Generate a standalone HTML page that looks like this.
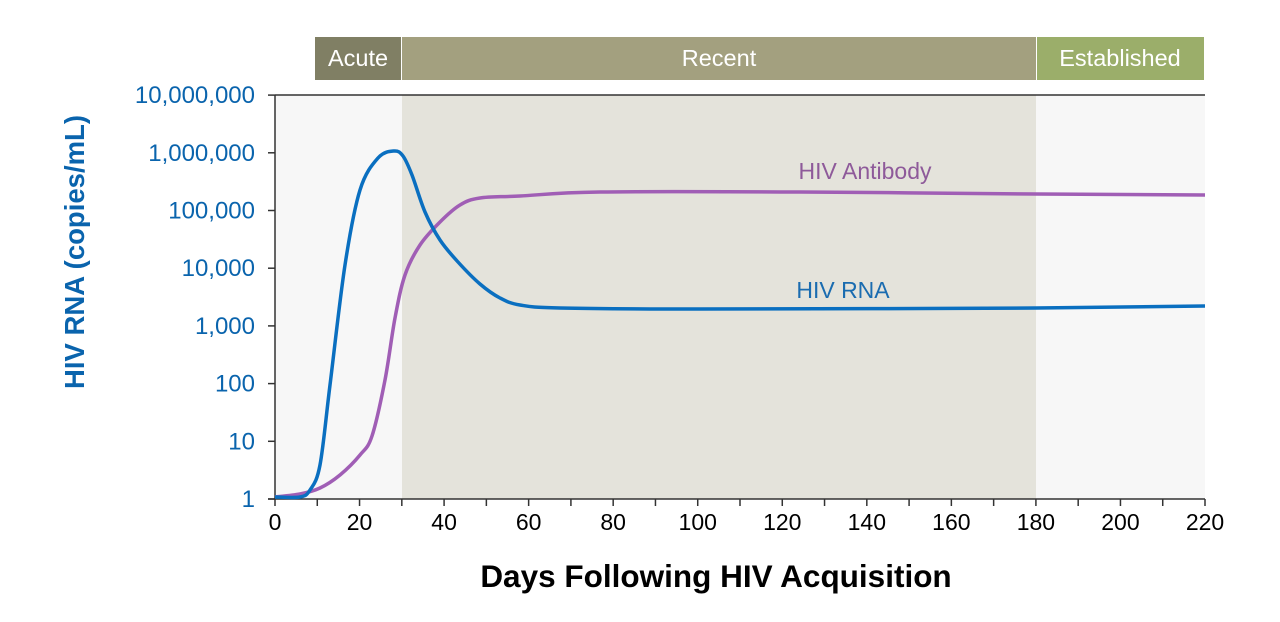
<!DOCTYPE html>
<html><head><meta charset="utf-8"><style>
body{margin:0;background:#fff;}
svg text{font-family:"Liberation Sans",Arial,sans-serif;}
</style></head><body>
<svg width="1280" height="617" xmlns="http://www.w3.org/2000/svg">
<rect x="315" y="37" width="86" height="43" fill="#807f64"/>
<rect x="402" y="37" width="634" height="43" fill="#a3a07f"/>
<rect x="1037" y="37" width="167" height="43" fill="#9bae6a"/>
<text x="358" y="66" fill="#fff" font-size="23.5" text-anchor="middle">Acute</text>
<text x="719" y="66" fill="#fff" font-size="23.5" text-anchor="middle">Recent</text>
<text x="1120" y="66" fill="#fff" font-size="23.5" text-anchor="middle">Established</text>
<rect x="275" y="95" width="930" height="404" fill="#f7f7f7"/>
<rect x="402" y="95" width="634" height="404" fill="#e4e3db"/>
<line x1="275" y1="95" x2="1205" y2="95" stroke="#333" stroke-width="1.5"/>
<line x1="275" y1="95" x2="275" y2="499" stroke="#333" stroke-width="1.5"/>
<line x1="268" y1="499" x2="1205" y2="499" stroke="#333" stroke-width="1.5"/>
<g id="yt" stroke="#333" stroke-width="1.5"></g>
<g id="xt" stroke="#333" stroke-width="1.5"></g>
<g id="yl" fill="#0a64ad" font-size="24" text-anchor="end"></g>
<g id="xl" fill="#000" font-size="23" text-anchor="middle"></g>
<path id="pab" fill="none" stroke="#a05eb5" stroke-width="3.5"/>
<path id="rna" fill="none" stroke="#0a6fc0" stroke-width="3.5"/>
<text x="865" y="179" fill="#8e5a9a" font-size="23" text-anchor="middle">HIV Antibody</text>
<text x="843" y="298" fill="#1a6cb0" font-size="23" text-anchor="middle">HIV RNA</text>
<text transform="translate(84,252) rotate(-90)" fill="#0a64ad" font-size="27.5" font-weight="bold" text-anchor="middle">HIV RNA (copies/mL)</text>
<text x="716" y="587" fill="#000" font-size="31.5" font-weight="bold" text-anchor="middle">Days Following HIV Acquisition</text>
</svg>
<script>
var ns="http://www.w3.org/2000/svg";
function el(p,t,a,txt){var e=document.createElementNS(ns,t);for(var k in a)e.setAttribute(k,a[k]);if(txt)e.textContent=txt;document.getElementById(p).appendChild(e);}
var labs=["1","10","100","1,000","10,000","100,000","1,000,000","10,000,000"];
for(var i=0;i<8;i++){var y=499-i*57.7;el("yt","line",{x1:268,y1:y,x2:275,y2:y});el("yl","text",{x:255,y:y+8},labs[i]);}
for(var d=0;d<=220;d+=10){var x=275+d*930/220;el("xt","line",{x1:x,y1:499,x2:x,y2:506});if(d%20==0)el("xl","text",{x:x,y:530},""+d);}
function cr(p){var s="M"+p[0][0]+","+p[0][1];for(var i=0;i<p.length-1;i++){var p0=p[i-1]||p[i],p1=p[i],p2=p[i+1],p3=p[i+2]||p2;
s+=" C"+(p1[0]+(p2[0]-p0[0])/6)+","+(p1[1]+(p2[1]-p0[1])/6)+" "+(p2[0]-(p3[0]-p1[0])/6)+","+(p2[1]-(p3[1]-p1[1])/6)+" "+p2[0]+","+p2[1];}return s;}
document.getElementById("rna").setAttribute("d",cr([[275,497],[300,497],[310,490],[320,465],[330,385],[345,265],[360,190],[378,158],[394,151],[403,156],[412,175],[425,212],[440,240],[458,262],[480,284],[500,298],[520,305],[560,308],[700,309],[1036,308],[1205,306]]));
document.getElementById("pab").setAttribute("d",cr([[275,497],[300,494],[320,488],[340,475],[360,455],[372,436],[385,380],[395,318],[405,275],[420,245],[440,222],[460,205],[480,198],[520,196],[600,192],[800,192],[1036,194],[1205,195]]));
</script>
</body></html>
